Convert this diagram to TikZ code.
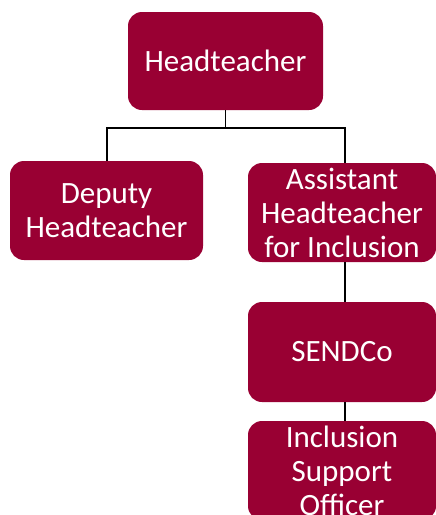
\documentclass[tikz,border=0pt]{standalone}
\usepackage{fontspec}
\setmainfont{Carlito}
\definecolor{boxred}{RGB}{153,0,51}
\begin{document}
\begin{tikzpicture}[x=1pt,y=-1pt,
  orgbox/.style={draw=none,fill=boxred,rounded corners=14pt,text=white,
    align=center,inner sep=0pt,font=\fontsize{31}{34}\selectfont},
  link/.style={draw=black,line width=1.4pt}]
  \useasboundingbox (0,0) rectangle (436,515);
  \begin{scope}
    \clip (0,0) rectangle (436,515);
    \node[orgbox,minimum width=195pt,minimum height=98pt] (head) at (225.5,61) {Headteacher};
    \node[orgbox,minimum width=193pt,minimum height=99pt] (deputy) at (106.5,210.5) {Deputy\\Headteacher};
    \node[orgbox,minimum width=188pt,minimum height=99pt] (assist) at (342,212.5) {Assistant\\Headteacher\\for Inclusion};
    \node[orgbox,minimum width=188pt,minimum height=100pt] (sendco) at (342,352) {SENDCo};
    \node[orgbox,minimum width=188pt,minimum height=99pt] (iso) at (342,470.5) {Inclusion\\Support\\Officer};
    \coordinate (bus) at (225.5,128);
    \draw[link] (head.south) -- (bus);
    \draw[link] (bus) -| ([xshift=0.5pt]deputy.north);
    \draw[link] (bus) -| ([xshift=3pt]assist.north);
    \draw[link] ([xshift=3pt]assist.south) -- ([xshift=3pt]sendco.north);
    \draw[link] ([xshift=3pt]sendco.south) -- ([xshift=3pt]iso.north);
  \end{scope}
\end{tikzpicture}
\end{document}
